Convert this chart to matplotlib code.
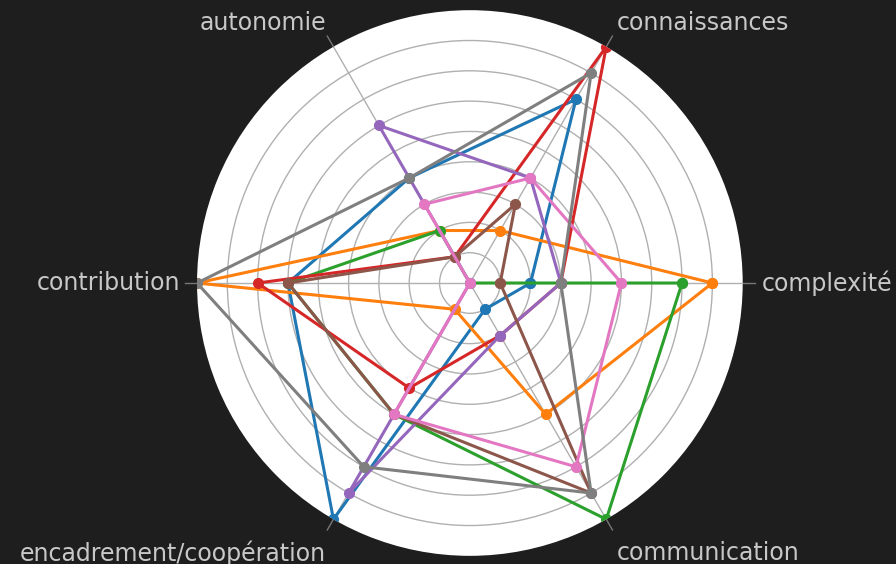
import numpy as np
import matplotlib.pyplot as plt

# axes of the radar, counter-clockwise from the right
categories = ["complexité", "connaissances", "autonomie", "contribution",
              "encadrement/coopération", "communication"]

# one list per profile (tab10 order)
blue = [2, 7, 4, 6, 9, 1]
orange = [8, 2, 2, 9, 1, 5]
green = [7, 0, 2, 6, 5, 9]
red = [3, 9, 1, 7, 4, 2]
purple = [3, 4, 6, 0, 8, 2]
brown = [1, 3, 1, 6, 5, 8]
pink = [5, 4, 3, 0, 5, 7]
gray = [3, 8, 4, 9, 7, 8]

series = [blue, orange, green, red, purple, brown, pink, gray]
colors = ["#1f77b4", "#ff7f0e", "#2ca02c", "#d62728",
          "#9467bd", "#8c564b", "#e377c2", "#7f7f7f"]

BG = "#1e1e1e"
TXT = "#c8c8c8"

angles = np.linspace(0, 2 * np.pi, len(categories), endpoint=False)
closed = np.concatenate([angles, angles[:1]])

fig = plt.figure(figsize=(8.96, 5.64), dpi=100, facecolor=BG)
ax = fig.add_axes([0.2199, 0.0142, 0.609, 0.968], projection="polar")
ax.set_facecolor("white")

for vals, c in zip(series, colors):
    v = np.concatenate([vals, vals[:1]])
    ax.plot(closed, v, color=c, linewidth=2.2, marker="o", markersize=7)

ax.set_ylim(0, 9)
ax.set_yticks(range(1, 9))
ax.set_yticklabels([])
ax.set_xticks(angles)
ax.set_xticklabels([])
ax.tick_params(axis="x", length=0)
ax.grid(True, color="#b0b0b0", linewidth=1.0)
ax.spines["polar"].set_visible(False)

rmax = ax.get_ylim()[1]

# category labels, pushed away from the disk
for name, a in zip(categories, angles):
    c, s = np.cos(a), np.sin(a)
    ha = "left" if c > 0.1 else "right" if c < -0.1 else "center"
    va = "bottom" if s > 0.1 else "top" if s < -0.1 else "center"
    dx = 7.3 if c > 0.1 else -5.2 if c < -0.1 else 0
    dy = 8.1 if s > 0.1 else -15.3 if s < -0.1 else 0
    if abs(s) < 0.1:
        dx = 13.7 if c > 0 else -12.2
    ax.annotate(name, xy=(a, rmax), xytext=(dx, dy), textcoords="offset points",
                ha=ha, va=va, fontsize=17, color=TXT, annotation_clip=False)

# short tick stubs just outside the disk
for a in angles:
    ax.plot([a, a], [rmax, rmax * 1.045], color="#777777", lw=1.0,
            clip_on=False, zorder=0)

plt.savefig("out.png", dpi=100, facecolor=BG)
